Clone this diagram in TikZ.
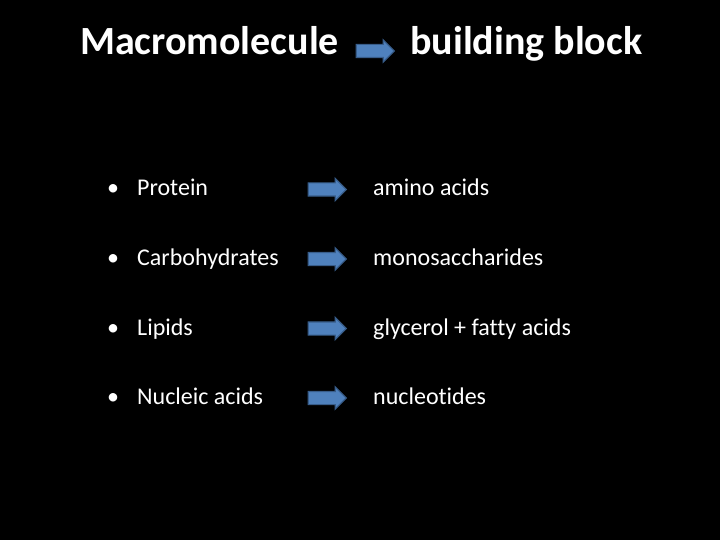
\documentclass[tikz,border=0pt]{standalone}
\usepackage{fontspec}
\setmainfont[Ligatures=NoCommon]{Carlito}
\usetikzlibrary{positioning,shapes.arrows}
\definecolor{arrowfill}{RGB}{79,129,189}
\definecolor{arrowedge}{RGB}{56,93,138}

\begin{document}
\begin{tikzpicture}[x=1pt,y=-1pt,
  heading/.style={text=white,font=\fontsize{40}{44}\selectfont\bfseries,anchor=base west,inner sep=0pt},
  item/.style={text=white,font=\fontsize{24}{28}\selectfont,anchor=base west,inner sep=0pt},
  blockarrow/.style={single arrow,draw=arrowedge,fill=arrowfill,line width=1.2pt,
    minimum height=38pt,inner xsep=0pt,inner ysep=6pt,single arrow head extend=4.5pt}]
    % slide background
    \fill[black] (0,0) rectangle (720,540);
    \useasboundingbox (0,0) rectangle (720,540);
    % heading
    \node[heading] (macro) at (80,55) {Macromolecule};
    \node[blockarrow] (headarrow) at (372,51) {};
    \node[heading] (block) at (410,55) {building block};
    % rows
    \node[item] (protein) at (107,196) {\makebox[30pt][l]{\textbullet}Protein};
    \node[blockarrow] (arrow1) at (324,189.5) {};
    \node[item] (amino) at (373,196) {amino acids};
    \node[item] (carbo) at (107,265.5) {\makebox[30pt][l]{\textbullet}Carbohydrates};
    \node[blockarrow] (arrow2) at (324,259) {};
    \node[item] (mono) at (373,265.5) {monosaccharides};
    \node[item] (lipids) at (107,335) {\makebox[30pt][l]{\textbullet}Lipids};
    \node[blockarrow] (arrow3) at (324,328.5) {};
    \node[item] (glycerol) at (373,335) {glycerol + fatty acids};
    \node[item] (nucleic) at (107,404.5) {\makebox[30pt][l]{\textbullet}Nucleic acids};
    \node[blockarrow] (arrow4) at (324,398) {};
    \node[item] (nucleo) at (373,404.5) {nucleotides};
\end{tikzpicture}
\end{document}
